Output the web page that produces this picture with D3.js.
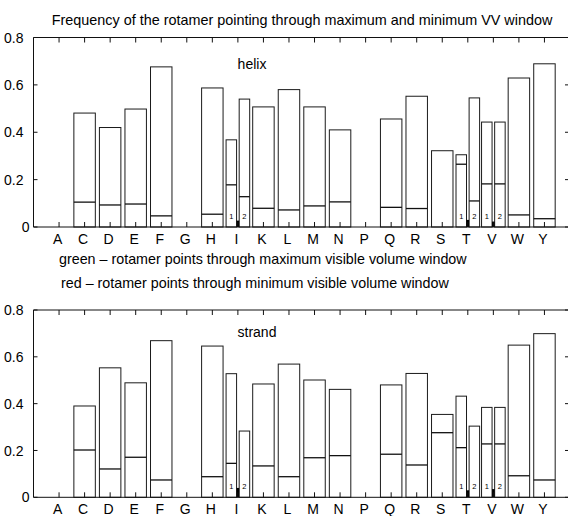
<!DOCTYPE html>
<html>
<head>
<meta charset="utf-8">
<script src="https://cdn.jsdelivr.net/npm/d3@7"></script>
<style>
  body { margin: 0; background: #fff; }
  svg { font-family: "Liberation Sans", Arial, sans-serif; }
  .bar { fill: none; stroke: #1b1b1b; stroke-width: 1; }
  .split { stroke: #111; stroke-width: 1.3; }
  .spine, .tick { stroke: #111; stroke-width: 1; }
</style>
</head>
<body>
<div id="chart"></div>
<script>
// amino acid categories along the x axis
var categories = ["A","C","D","E","F","G","H","I","K","L","M","N","P","Q","R","S","T","V","W","Y"];

// one entry per drawn bar; sub 0 = full width, 1/2 = split bar for I, T, V
var barCat = ["C","D","E","F","H","I","I","K","L","M","N","Q","R","S","T","T","V","V","W","Y"];
var barSub = [0,0,0,0,0,1,2,0,0,0,0,0,0,0,1,2,1,2,0,0];

// helix panel: bar height and level of the inner dividing line
var helixTop   = [0.481,0.420,0.498,0.676,0.587,0.368,0.540,0.507,0.580,0.507,0.410,0.456,0.552,0.322,0.305,0.545,0.443,0.443,0.629,0.689];
var helixInner = [0.105,0.093,0.097,0.047,0.054,0.178,0.128,0.079,0.072,0.089,0.106,0.083,0.078,null,0.265,0.110,0.182,0.182,0.051,0.035];

// strand panel
var strandTop   = [0.390,0.553,0.489,0.669,0.646,0.528,0.283,0.484,0.569,0.501,0.461,0.480,0.529,0.354,0.432,0.304,0.384,0.384,0.650,0.699];
var strandInner = [0.202,0.121,0.171,0.074,0.088,0.145,null,0.134,0.088,0.169,0.178,0.184,0.138,0.276,0.212,null,0.228,0.228,0.092,0.074];

// small solid marks between the split bars
var markCats = ["I","T","V"];
var helixMarks = [0.027,0.030,0.023];
var strandMarks = [0.040,0.030,0.035];

var yTicks = [0, 0.2, 0.4, 0.6, 0.8];

var width = 568, height = 516;

var svg = d3.select("#chart").append("svg")
    .attr("width", width)
    .attr("height", height);

// x position: categories at 1..20, frame from 0 to 21
var x = d3.scaleLinear().domain([0, 21]).range([33.5, 570]);
function cx(c) { return x(categories.indexOf(c) + 1); }

var step = x(1) - x(0),
    fullW = step * 0.84,
    subW = 10.5,
    gap = 1.3;

svg.append("text")
    .attr("x", 302).attr("y", 24.5)
    .attr("text-anchor", "middle")
    .style("font-size", "14.4px")
    .text("Frequency of the rotamer pointing through maximum and minimum VV window");

svg.append("text")
    .attr("x", 59).attr("y", 263.5)
    .style("font-size", "14.3px")
    .text("green \u2013 rotamer points through maximum visible volume window");

svg.append("text")
    .attr("x", 61).attr("y", 287.5)
    .style("font-size", "14.3px")
    .text("red \u2013 rotamer points through minimum visible volume window");

drawPanel(37.5, 227, helixTop, helixInner, helixMarks, "helix", 252, 69, 243.5);
drawPanel(310, 497.3, strandTop, strandInner, strandMarks, "strand", 257, 337, 513.5);

function drawPanel(yTop, yBottom, topVals, innerVals, marks, name, nameX, nameY, labelY) {
    var y = d3.scaleLinear().domain([0, 0.8]).range([yBottom, yTop]);
    var g = svg.append("g");

    function barX(i) {
        var c = cx(barCat[i]);
        if (barSub[i] === 0) return c - fullW / 2;
        if (barSub[i] === 1) return c - gap - subW;
        return c + gap;
    }
    function barW(i) { return barSub[i] === 0 ? fullW : subW; }

    // outlined bars
    g.selectAll(".bar")
        .data(topVals)
        .enter().append("rect")
        .attr("class", "bar")
        .attr("x", function(d, i) { return barX(i); })
        .attr("y", function(d) { return y(d); })
        .attr("width", function(d, i) { return barW(i); })
        .attr("height", function(d) { return y(0) - y(d); });

    // inner dividing lines
    g.selectAll(".split")
        .data(innerVals.map(function(v, i) { return {v: v, i: i}; })
            .filter(function(d) { return d.v !== null; }))
        .enter().append("line")
        .attr("class", "split")
        .attr("x1", function(d) { return barX(d.i); })
        .attr("x2", function(d) { return barX(d.i) + barW(d.i); })
        .attr("y1", function(d) { return y(d.v); })
        .attr("y2", function(d) { return y(d.v); });

    // 1 / 2 labels inside split bars
    g.selectAll(".sublabel")
        .data(barSub.map(function(s, i) { return {s: s, i: i}; })
            .filter(function(d) { return d.s > 0; }))
        .enter().append("text")
        .attr("x", function(d) { return barX(d.i) + barW(d.i) / 2; })
        .attr("y", y(0.035))
        .attr("text-anchor", "middle")
        .style("font-size", "7.5px")
        .text(function(d) { return d.s; });

    // small solid marks
    g.selectAll(".mark")
        .data(marks)
        .enter().append("rect")
        .attr("x", function(d, i) { return cx(markCats[i]) - 1.3; })
        .attr("y", function(d) { return y(d); })
        .attr("width", 2.6)
        .attr("height", function(d) { return y(0) - y(d); })
        .attr("fill", "#000");

    // frame
    var x0 = x(0), x1 = x(21);
    g.append("path").attr("class", "spine").attr("fill", "none")
        .attr("d", "M" + x1 + "," + yTop + "H" + x0 + "V" + yBottom + "H" + x1 + "V" + yTop);

    // category ticks, top pointing down and bottom pointing up
    categories.forEach(function(c) {
        g.append("line").attr("class", "tick")
            .attr("x1", cx(c)).attr("x2", cx(c))
            .attr("y1", yTop).attr("y2", yTop + 5);
        g.append("line").attr("class", "tick")
            .attr("x1", cx(c)).attr("x2", cx(c))
            .attr("y1", yBottom).attr("y2", yBottom - 5);
        g.append("text")
            .attr("x", cx(c) - 1.5).attr("y", labelY)
            .attr("text-anchor", "middle")
            .style("font-size", "14px")
            .text(c);
    });

    // y ticks left and right
    yTicks.forEach(function(t) {
        g.append("line").attr("class", "tick")
            .attr("x1", x0).attr("x2", x0 + 4)
            .attr("y1", y(t)).attr("y2", y(t));
        g.append("line").attr("class", "tick")
            .attr("x1", x1).attr("x2", x1 - 5)
            .attr("y1", y(t)).attr("y2", y(t));
        g.append("text")
            .attr("x", t === 0 ? x0 - 4 : x0 - 10).attr("y", y(t))
            .attr("dy", "0.36em")
            .attr("text-anchor", "end")
            .style("font-size", "14px")
            .text(t === 0 ? "0" : t.toFixed(1));
    });

    g.append("text")
        .attr("x", nameX).attr("y", nameY)
        .attr("text-anchor", "middle")
        .style("font-size", "14px")
        .text(name);
}
</script>
</body>
</html>
